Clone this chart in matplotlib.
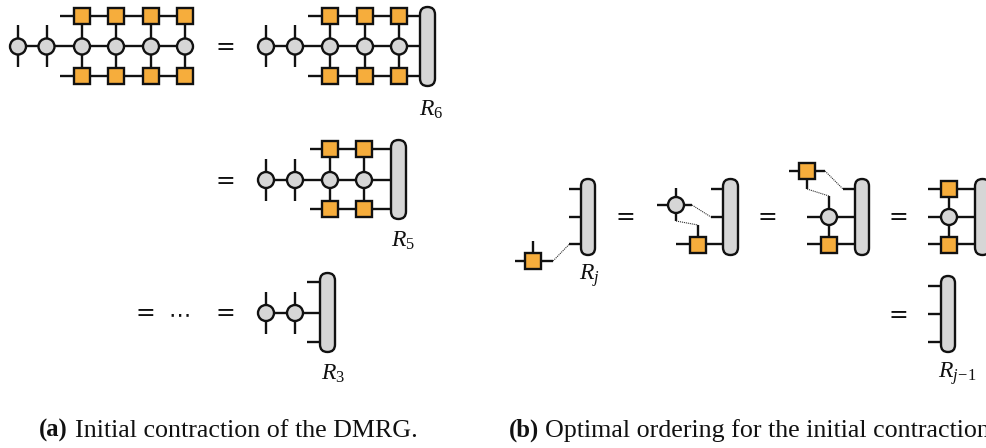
import matplotlib
matplotlib.use("Agg")
import matplotlib.pyplot as plt
from matplotlib.patches import Circle, Rectangle, FancyBboxPatch

plt.rcParams['font.family'] = ['Liberation Serif', 'DejaVu Sans']
plt.rcParams['mathtext.fontset'] = 'custom'
plt.rcParams['mathtext.rm'] = 'Liberation Serif'
plt.rcParams['mathtext.it'] = 'Liberation Serif:italic'

ORANGE = '#F6AD3C'
GRAY = '#D6D6D6'
INK = '#111111'
LW = 1.7

fig = plt.figure(figsize=(9.87, 4.48), dpi=100)
ax = fig.add_axes([0, 0, 1, 1])
ax.set_xlim(0, 987)
ax.set_ylim(448, 0)
ax.axis('off')


def line(x0, y0, x1, y1, lw=LW, ls='-', color=INK, z=1):
    ax.plot([x0, x1], [y0, y1], color=color, lw=lw, ls=ls, solid_capstyle='butt', zorder=z)


def dotted(x0, y0, x1, y1):
    ax.plot([x0, x1], [y0, y1], color='#333333', lw=0.8, ls=(0, (1, 0.8)), zorder=1)


def circ(x, y):
    ax.add_patch(Circle((x, y), 8, fc=GRAY, ec=INK, lw=LW, zorder=3))


def sq(x, y):
    ax.add_patch(Rectangle((x - 8, y - 8), 16, 16, fc=ORANGE, ec=INK, lw=LW, zorder=3))


def pill(x0, x1, y0, y1):
    ax.add_patch(FancyBboxPatch((x0, y0), x1 - x0, y1 - y0,
                                boxstyle=f"round,pad=0,rounding_size={(x1 - x0) / 2}",
                                fc=GRAY, ec=INK, lw=LW, zorder=3))


def eq(x, y):
    ax.text(x, y - 2, '=', fontsize=17, family='DejaVu Sans', ha='center', va='center_baseline', color=INK)


def label(x, y, s):
    ax.text(x, y, s, fontsize=17, ha='left', va='baseline', color=INK)


def free_sites(xs, y):
    for x in xs:
        line(x, y - 21, x, y + 21)
        circ(x, y)


def sandwich(xs, y, top, bot, start, end):
    line(start, top, end, top)
    line(start, bot, end, bot)
    for x in xs:
        line(x, top, x, bot)
        sq(x, top)
        circ(x, y)
        sq(x, bot)


# ---------- panel (a) ----------
FREE_A = [18, 46.5]
SANDWICH_A = [82, 116, 151, 185]
line(18, 46.5, 185, 46.5)
free_sites(FREE_A, 46.5)
sandwich(SANDWICH_A, 46.5, 16, 76.5, 60, 185)

FREE_R = [266, 295]
SANDWICH_R6 = [330, 365, 399]
line(266, 46.5, 420, 46.5)
free_sites(FREE_R, 46.5)
sandwich(SANDWICH_R6, 46.5, 16, 76.5, 308, 420)
pill(420, 435, 7, 86)
label(419, 116, r'$R_6$')
eq(225, 46.5)

SANDWICH_R5 = [330, 364]
line(266, 180, 391, 180)
free_sites(FREE_R, 180)
sandwich(SANDWICH_R5, 180, 149.5, 209.5, 310, 391)
pill(391, 406, 140, 219)
label(391, 247, r'$R_5$')
eq(225, 180)

line(266, 313, 320, 313)
free_sites(FREE_R, 313)
line(307, 282.5, 320, 282.5)
line(307, 342.5, 320, 342.5)
pill(320, 335, 273, 352)
label(321, 380, r'$R_3$')
eq(145, 313)
ax.text(180, 313, '\u22ef', fontsize=16, family='DejaVu Sans', ha='center', va='center_baseline', color=INK)
eq(225, 313)

# ---------- panel (b) ----------
# first term
for yy in (189, 217, 244.5):
    line(569, yy, 581, yy)
pill(581, 595, 179, 255)
line(515, 261, 553, 261)
line(533, 241, 533, 261)
sq(533, 261)
dotted(553, 261, 569, 244.5)
label(579, 280, r'$R_j$')
eq(625, 217)

# second term
line(711, 189, 723, 189)
line(711, 217, 723, 217)
line(676, 244.5, 723, 244.5)
pill(723, 738, 179, 255)
line(698, 225, 698, 245)
sq(698, 245)
line(657, 205, 692, 205)
line(676, 188, 676, 221)
circ(676, 205)
dotted(692, 205, 711, 217)
dotted(676, 221, 698, 225)
eq(767, 217)

# third term
line(843, 189, 855, 189)
line(807, 217, 855, 217)
line(807, 244.5, 855, 244.5)
pill(855, 869, 179, 255)
line(829, 196, 829, 245)
circ(829, 217)
sq(829, 245)
line(789, 171, 825, 171)
line(807, 171, 807, 189)
sq(807, 171)
dotted(825, 171, 843, 189)
dotted(807, 189, 829, 196)
eq(898.5, 217)

# fourth term
for yy in (189, 217, 244.5):
    line(928, yy, 975, yy)
line(949, 189, 949, 245)
sq(949, 189)
circ(949, 217)
sq(949, 245)
pill(975, 990, 179, 255)

# result
for yy in (286.5, 314, 342):
    line(928, yy, 941, yy)
pill(941, 955, 276, 352)
label(938, 378, r'$R_{j\!-\!1}$')
eq(898.5, 314)

# ---------- captions ----------
CAP = 18.75
ax.text(39, 437, '(a)', fontsize=CAP - 1, fontweight='bold', ha='left', va='baseline', color=INK)
ax.text(75, 437, 'Initial contraction of the DMRG.', fontsize=CAP, ha='left', va='baseline', color=INK)
ax.text(509, 437, '(b)', fontsize=CAP - 1, fontweight='bold', ha='left', va='baseline', color=INK)
ax.text(545, 437, 'Optimal ordering for the initial contraction', fontsize=CAP, ha='left', va='baseline', color=INK)

fig.savefig('out.png', dpi=100)
